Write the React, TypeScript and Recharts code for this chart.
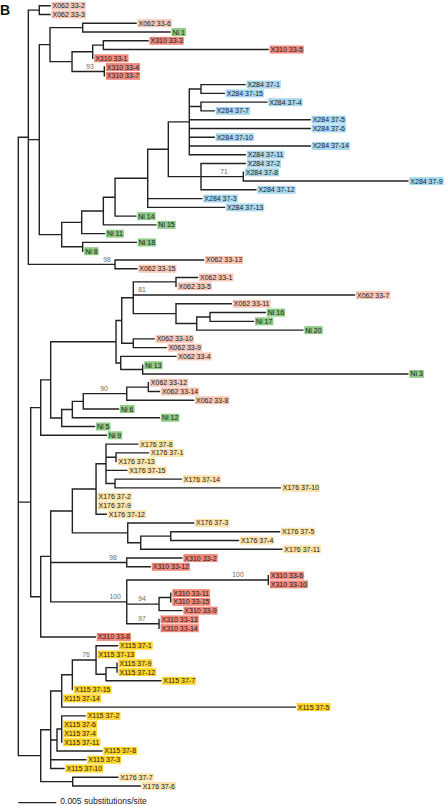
import { ComposedChart, Line, Scatter, XAxis, YAxis } from "recharts";

// branch depths are in 1e-4 substitutions/site (the scale bar = 50)

// leaves, top to bottom
const leafNames = [
  "X062 33-2", "X062 33-3", "X062 33-6", "Ni 1", "X310 33-3", "X310 33-5", "X310 33-1", "X310 33-4", "X310 33-7",
  "X284 37-1", "X284 37-15", "X284 37-4", "X284 37-7", "X284 37-5", "X284 37-6", "X284 37-10", "X284 37-14", "X284 37-11",
  "X284 37-2", "X284 37-8", "X284 37-9", "X284 37-12", "X284 37-3", "X284 37-13",
  "Ni 14", "Ni 15", "Ni 11", "Ni 18", "Ni 8",
  "X062 33-13", "X062 33-15", "X062 33-1", "X062 33-5", "X062 33-7", "X062 33-11",
  "Ni 16", "Ni 17", "Ni 20",
  "X062 33-10", "X062 33-9", "X062 33-4", "Ni 13", "Ni 3",
  "X062 33-12", "X062 33-14", "X062 33-8", "Ni 6", "Ni 12", "Ni 5", "Ni 9",
  "X176 37-8", "X176 37-1", "X176 37-13", "X176 37-15", "X176 37-14", "X176 37-10", "X176 37-2", "X176 37-9", "X176 37-12",
  "X176 37-3", "X176 37-5", "X176 37-4", "X176 37-11",
  "X310 33-2", "X310 33-12", "X310 33-6", "X310 33-10", "X310 33-11", "X310 33-15", "X310 33-9", "X310 33-13", "X310 33-14", "X310 33-8",
  "X115 37-1", "X115 37-13", "X115 37-9", "X115 37-12", "X115 37-7", "X115 37-15", "X115 37-14", "X115 37-5",
  "X115 37-2", "X115 37-6", "X115 37-4", "X115 37-11", "X115 37-8", "X115 37-3", "X115 37-10",
  "X176 37-7", "X176 37-6",
];

const leafDepth = [
  41.7, 41.7, 154.9, 199.6, 170.7, 328.6, 97.9, 113.2, 113.2,
  298.3, 271.0, 327.0, 257.8, 384.1, 384.1, 257.8, 384.1, 298.6,
  298.6, 296.1, 512.6, 312.6, 241.5, 271.4,
  154.6, 181.0, 113.4, 155.2, 84.7,
  243.7, 155.9, 235.8, 207.5, 442.4, 280.2,
  324.9, 309.5, 374.4,
  178.8, 194.6, 207.3, 163.7, 512.6,
  171.1, 185.8, 230.6, 131.9, 185.8, 100.3, 115.7,
  157.3, 171.3, 128.6, 142.8, 214.4, 344.7, 102.3, 102.3, 115.7,
  230.6, 343.7, 289.8, 346.8,
  215.2, 173.6, 329.0, 329.0, 200.6, 200.6, 215.2, 185.2, 185.2, 101.2,
  130.5, 102.3, 129.9, 129.9, 187.5, 71.1, 57.1, 364.4,
  88.0, 57.1, 57.1, 57.1, 109.9, 88.8, 60.1,
  130.9, 160.4,
];

const leafParent = [
  "n2", "n2", "n5", "n5", "n8", "n8", "n7", "n9", "n9",
  "n17", "n17", "n18", "n18", "n16", "n16", "n16", "n16", "n16",
  "n19", "n20", "n20", "n19", "n14", "n14",
  "n13", "n12", "n11", "n21", "n21",
  "n22", "n22", "n29", "n29", "n28", "n30",
  "n32", "n32", "n31",
  "n33", "n33", "n34", "n35", "n35",
  "n40", "n40", "n39", "n38", "n37", "n36", "n24",
  "n45", "n46", "n46", "n45", "n47", "n47", "n44", "n44", "n44",
  "n48", "n66", "n66", "n49",
  "n50", "n50", "n52", "n52", "n54", "n54", "n53", "n55", "n55", "n41",
  "n60", "n60", "n62", "n62", "n61", "n59", "n58", "n58",
  "n64", "n64", "n64", "n64", "n63", "n57", "n57",
  "n65", "n65",
];

// internal nodes
const nodeIds = [
  "root", "n1", "n2", "n3", "n4", "n5", "n6", "n7", "n8", "n9",
  "n10", "n11", "n12", "n13", "n14", "n15", "n16", "n17", "n18", "n19",
  "n20", "n21", "n22", "n23", "n24", "n25", "n26", "n27", "n28", "n29",
  "n30", "n31", "n32", "n33", "n34", "n35", "n36", "n37", "n38", "n39",
  "n40", "n41", "n42", "n43", "n44", "n45", "n46", "n47", "n48", "n49",
  "n50", "n51", "n52", "n53", "n54", "n55", "n56", "n57", "n58", "n59",
  "n60", "n61", "n62", "n63", "n64", "n65", "n66",
];
const nodeDepth = [
  0, 13.2, 27.6, 27.6, 41.7, 84.7, 70.7, 97.9, 111.9, 113.2,
  57.1, 83.4, 111.9, 127.3, 170.3, 197.4, 225.0, 240.4, 240.4, 240.4,
  296.1, 84.7, 127.3, 16.3, 29.5, 42.6, 128.6, 136.1, 151.3, 207.5,
  207.5, 234.8, 252.3, 151.3, 134.8, 163.7, 57.1, 71.1, 85.5, 142.7,
  171.1, 29.5, 42.6, 71.1, 102.3, 115.4, 128.6, 127.3, 144.0, 161.1,
  142.7, 142.7, 329.0, 185.2, 200.6, 185.2, 29.5, 42.6, 57.1, 71.1,
  102.3, 115.4, 129.9, 50.9, 57.1, 71.6, 200.6,
];
const nodeParent = [
  null, "root", "n1", "n1", "n3", "n4", "n4", "n6", "n7", "n6",
  "n3", "n10", "n11", "n12", "n13", "n14", "n15", "n16", "n16", "n15",
  "n19", "n10", "n1", "root", "n23", "n24", "n25", "n26", "n27", "n28",
  "n28", "n30", "n31", "n27", "n26", "n34", "n25", "n36", "n37", "n38",
  "n39", "n23", "n41", "n42", "n43", "n44", "n45", "n45", "n43", "n48",
  "n42", "n42", "n51", "n51", "n53", "n51", "root", "n56", "n57", "n58",
  "n59", "n60", "n61", "n57", "n63", "n56", "n49",
];

// bootstrap support
const supportAt = ["n9", "n20", "n22", "X062 33-7", "n39", "n50", "n52", "n51", "n53", "n55", "n60"];
const supportValue = [93, 71, 98, 81, 90, 98, 100, 100, 94, 97, 76];
const supportX = [94.4, 270.7, 116.7, 162.8, 112.8, 124.6, 289.1, 127.3, 162.8, 162.8, 89.1];

const groupPrefix = ["X062", "X310", "X284", "Ni", "X176", "X115"];
const groupColor = ["#f9c7b7", "#ef8a7d", "#a8d8f0", "#8fcb87", "#fde3aa", "#ffd52c"];

const SCALE_BAR = 50; // 0.005 substitutions/site
const SCALE_ROW = 90.9;

const W = 445;
const H = 806;
const FONT = "'Liberation Sans', Arial, Helvetica, sans-serif";

// ---- build tree geometry ----
const depthOf: Record<string, number> = {};
const parentOf: Record<string, string | null> = {};
const children: Record<string, string[]> = {};
const rowOf: Record<string, number> = {};

nodeIds.forEach((id, i) => {
  depthOf[id] = nodeDepth[i];
  parentOf[id] = nodeParent[i];
  children[id] = [];
});
leafNames.forEach((n, i) => {
  depthOf[n] = leafDepth[i];
  parentOf[n] = leafParent[i];
  rowOf[n] = i;
});
Object.keys(parentOf).forEach((id) => {
  const p = parentOf[id];
  if (p) children[p].push(id);
});

const yCache: Record<string, number> = {};
function yOf(id: string): number {
  if (id in rowOf) return rowOf[id];
  if (id in yCache) return yCache[id];
  const ys = children[id].map(yOf);
  const y = (Math.min(...ys) + Math.max(...ys)) / 2;
  yCache[id] = y;
  return y;
}

const branchData: { x: number; y: number | null }[] = [];
Object.keys(parentOf).forEach((id) => {
  const p = parentOf[id];
  const y = yOf(id);
  if (p) {
    branchData.push({ x: depthOf[p], y }, { x: depthOf[id], y }, { x: depthOf[id], y: null });
  }
  if (children[id] && children[id].length) {
    const ys = children[id].map(yOf);
    branchData.push(
      { x: depthOf[id], y: Math.min(...ys) },
      { x: depthOf[id], y: Math.max(...ys) },
      { x: depthOf[id], y: null }
    );
  }
});

const colorFor = (name: string) => {
  const i = groupPrefix.findIndex((g) => name.startsWith(g));
  return groupColor[i];
};

const leafPoints = leafNames.map((name, i) => ({
  x: leafDepth[i],
  y: i,
  name,
  color: colorFor(name),
}));

const supportPoints = supportAt.map((id, i) => ({
  x: supportX[i],
  y: yOf(id),
  v: supportValue[i],
}));

const scaleData = [
  { x: 0, y: SCALE_ROW },
  { x: SCALE_BAR, y: SCALE_ROW },
];
const scaleLabel = [{ x: SCALE_BAR, y: SCALE_ROW, text: "0.005 substitutions/site" }];

let ctx: CanvasRenderingContext2D | null = null;
function textWidth(s: string) {
  if (!ctx && typeof document !== "undefined") {
    ctx = document.createElement("canvas").getContext("2d");
  }
  if (!ctx) return s.length * 3.8;
  ctx.font = `7px ${FONT}`;
  return ctx.measureText(s).width;
}

function LeafLabel(props: any) {
  const { cx, cy, payload } = props;
  const w = textWidth(payload.name) + 2;
  return (
    <g>
      <rect x={cx + 1.5} y={cy - 4} width={w} height={8} fill={payload.color} />
      <text x={cx + 2.5} y={cy + 2.5} fontSize={7} fontFamily={FONT} fill="#1a1a1a">
        {payload.name}
      </text>
    </g>
  );
}

function SupportLabel(props: any) {
  const { cx, cy, payload } = props;
  return (
    <text x={cx} y={cy - 2.6} textAnchor="middle" fontSize={6.8} fontFamily={FONT} fill="#6b6b6b">
      {payload.v}
    </text>
  );
}

function ScaleText(props: any) {
  const { cx, cy, payload } = props;
  return (
    <text x={cx + 4} y={cy + 1.4} fontSize={8.5} fontFamily={FONT} fill="#1a1a1a">
      {payload.text}
    </text>
  );
}

export default function App() {
  return (
    <div style={{ position: "relative", width: W, height: H, background: "#fff" }}>
      <style>{"body{margin:0}"}</style>
      <div
        style={{
          position: "absolute",
          left: 0,
          top: 0,
          fontFamily: FONT,
          fontWeight: 700,
          fontSize: 14,
          lineHeight: "20px",
          color: "#111",
        }}
      >
        B
      </div>
      <ComposedChart width={W} height={H} margin={{ top: 0, right: 0, bottom: 0, left: 0 }}>
        <XAxis type="number" dataKey="x" domain={[-24.1, 561.5]} allowDataOverflow hide />
        <YAxis type="number" dataKey="y" domain={[-0.65, 91.28]} allowDataOverflow reversed hide />
        <Line
          data={branchData}
          dataKey="y"
          type="linear"
          stroke="#222"
          strokeWidth={1.4}
          strokeLinecap="square"
          dot={false}
          activeDot={false}
          connectNulls={false}
          isAnimationActive={false}
        />
        <Line
          data={scaleData}
          dataKey="y"
          type="linear"
          stroke="#222"
          strokeWidth={1.4}
          dot={false}
          activeDot={false}
          isAnimationActive={false}
        />
        <Scatter data={leafPoints} shape={LeafLabel} isAnimationActive={false} />
        <Scatter data={supportPoints} shape={SupportLabel} isAnimationActive={false} />
        <Scatter data={scaleLabel} shape={ScaleText} isAnimationActive={false} />
      </ComposedChart>
    </div>
  );
}
